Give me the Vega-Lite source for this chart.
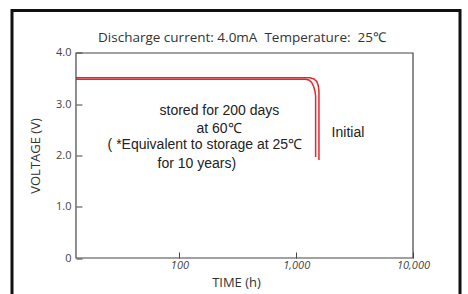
{
  "$schema": "https://vega.github.io/schema/vega-lite/v6.json",
  "width": 448,
  "height": 290,
  "autosize": {"type": "none"},
  "padding": {"left": 12, "top": 10.5, "right": 8, "bottom": 0},
  "background": "white",
  "title": {
    "text": "Discharge current: 4.0mA\u00a0\u00a0Temperature:\u00a0\u00a025℃",
    "offset": -34,
    "dx": 6,
    "anchor": "middle",
    "font": "Open Sans",
    "fontSize": 13.5,
    "fontWeight": "normal",
    "color": "#333333"
  },
  "config": {
    "view": {"stroke": "#111111", "strokeWidth": 3}
  },
  "datasets": {
    "curves": [
      {"series": "stored", "i": 0, "t": 13, "v": 3.487},
      {"series": "stored", "i": 1, "t": 1187, "v": 3.487},
      {"series": "stored", "i": 2, "t": 1285, "v": 3.473},
      {"series": "stored", "i": 3, "t": 1355, "v": 3.424},
      {"series": "stored", "i": 4, "t": 1404, "v": 3.356},
      {"series": "stored", "i": 5, "t": 1446, "v": 3.259},
      {"series": "stored", "i": 6, "t": 1466, "v": 3.161},
      {"series": "stored", "i": 7, "t": 1466, "v": 1.971},
      {"series": "initial", "i": 0, "t": 13, "v": 3.516},
      {"series": "initial", "i": 1, "t": 1310, "v": 3.516},
      {"series": "initial", "i": 2, "t": 1418, "v": 3.493},
      {"series": "initial", "i": 3, "t": 1498, "v": 3.444},
      {"series": "initial", "i": 4, "t": 1543, "v": 3.366},
      {"series": "initial", "i": 5, "t": 1565, "v": 3.259},
      {"series": "initial", "i": 6, "t": 1565, "v": 1.912}
    ],
    "notes": [
      {"t": 220, "v": 2.874, "label": "stored for 200 days"},
      {"t": 218, "v": 2.517, "label": "at 60℃"},
      {"t": 165, "v": 2.205, "label": "( *Equivalent to storage at 25℃"},
      {"t": 141, "v": 1.834, "label": "for 10 years)"},
      {"t": 2772, "v": 2.445, "label": "Initial"}
    ],
    "frame": [{}]
  },
  "layer": [
    {
      "data": {"name": "curves"},
      "mark": {"type": "line", "color": "#e4262c", "strokeWidth": 1.5},
      "encoding": {
        "x": {
          "field": "t",
          "type": "quantitative",
          "scale": {"type": "log", "domain": [3.681, 25260], "nice": false},
          "axis": {
            "orient": "bottom",
            "offset": -48.5,
            "values": [100, 1000, 10000],
            "format": ",d",
            "domain": false,
            "grid": false,
            "tickSize": 6,
            "tickColor": "#444444",
            "labelPadding": 1.5,
            "labelFont": "Open Sans",
            "labelFontSize": 11,
            "labelFontStyle": "italic",
            "labelColor": "#444444",
            "labelFlush": false,
            "title": "TIME (h)",
            "titleFont": "Open Sans",
            "titleFontSize": 13,
            "titleFontWeight": "normal",
            "titleColor": "#333333",
            "titlePadding": 6
          }
        },
        "y": {
          "field": "v",
          "type": "quantitative",
          "scale": {"domain": [-0.829, 4.829], "nice": false, "zero": false},
          "axis": {
            "orient": "left",
            "offset": -70,
            "values": [0, 1, 2, 3, 4],
            "labelExpr": "datum.value == 0 ? '0' : format(datum.value, '.1f')",
            "domain": false,
            "grid": false,
            "tickSize": 6,
            "tickColor": "#444444",
            "labelPadding": 5,
            "labelFont": "Open Sans",
            "labelFontSize": 11,
            "labelColor": "#444444",
            "labelFlush": false,
            "title": "VOLTAGE (V)",
            "titleFont": "Open Sans",
            "titleFontSize": 13,
            "titleFontWeight": "normal",
            "titleColor": "#333333",
            "titlePadding": 13
          }
        },
        "detail": {"field": "series"},
        "order": {"field": "i"}
      }
    },
    {
      "data": {"name": "frame"},
      "mark": {"type": "rect", "fill": "transparent", "stroke": "#444444", "strokeWidth": 1.2},
      "encoding": {
        "x": {"datum": 13, "type": "quantitative"},
        "x2": {"datum": 10000},
        "y": {"datum": 0, "type": "quantitative"},
        "y2": {"datum": 4}
      }
    },
    {
      "data": {"name": "notes"},
      "mark": {"type": "text", "font": "Liberation Sans", "fontSize": 14, "color": "#222222", "align": "center", "baseline": "middle"},
      "encoding": {
        "x": {"field": "t", "type": "quantitative"},
        "y": {"field": "v", "type": "quantitative"},
        "text": {"field": "label"}
      }
    }
  ]
}
